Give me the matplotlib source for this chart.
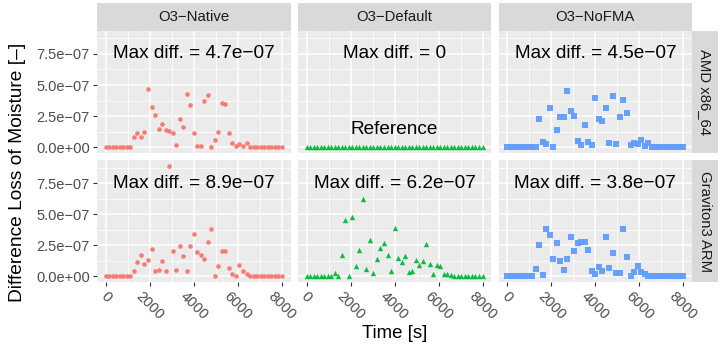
import numpy as np
import matplotlib
matplotlib.use("Agg")
import matplotlib.pyplot as plt
from matplotlib.ticker import FixedLocator

plt.rcParams['font.family'] = ['Liberation Sans', 'DejaVu Sans']

# ---------------- data ----------------
time_s = np.arange(0, 8001, 160)  # 51 output times

cols = ["O3\u2212Native", "O3\u2212Default", "O3\u2212NoFMA"]
rows = ["AMD x86_64", "Graviton3 ARM"]

# values in units of 1e-7
amd_native = [0, 0, 0, 0, 0, 0, 0, 0, 0.81, 1.16, 0.78, 1.24, 4.68, 3.23, 2.61, 1.45, 1.85,
              1.37, 1.29, 1.16, 0.16, 2.26, 1.61, 4.30, 3.39, 1.13, 0.13, 0.08, 3.74, 4.17,
              0.03, 0.54, 1.21, 3.52, 3.44, 1.16, 0.32, 0.08, 0.24, 0.08, 0.30,
              0, 0, 0, 0, 0, 0, 0, 0, 0, 0]
amd_default = [0] * 51
amd_nofma = [0, 0, 0, 0, 0, 0, 0, 0, 0, 2.28, 0.43, 0.27, 3.17, 0.03, 1.40, 2.45, 2.45,
             4.50, 2.93, 2.53, 0.51, 0.19, 1.80, 0.43, 0.19, 3.98, 2.28, 2.12, 3.17, 0.35,
             4.14, 0.27, 2.45, 3.82, 2.77, 0.19, 0.35, 0.27, 0.59, 0.11, 0.35,
             0, 0, 0, 0, 0, 0, 0, 0, 0, 0]
arm_native = [0, 0, 0, 0, 0, 0, 0, 0, 0.43, 1.14, 1.74, 0.98, 1.30, 2.17, 0.43, 0.49, 1.22,
              0.46, 8.90, 2.04, 0.54, 2.47, 1.63, 0.41, 2.47, 3.42, 1.96, 1.71, 1.44, 2.77,
              3.78, 0.03, 0.82, 2.01, 2.01, 0.71, 0.19, 0.05, 0.92, 0.41, 0.16, 0.05,
              0, 0, 0, 0, 0, 0, 0, 0, 0]
arm_default = [0, 0, 0, 0, 0, 0, 0, 0, 0.27, 0.05, 1.71, 4.51, 0.03, 4.81, 0.84, 2.09, 6.20,
               0.63, 2.93, 0.24, 1.44, 2.31, 2.69, 1.71, 0.41, 3.86, 1.47, 1.14, 1.68, 0.33,
               0.43, 1.36, 0.90, 1.22, 2.61, 1.01, 0.22, 0.95, 0.82, 0.16, 0.22, 0.11,
               0, 0, 0, 0, 0, 0, 0, 0, 0]
arm_nofma = [0, 0, 0, 0, 0, 0, 0, 0, 0.60, 2.53, 0.08, 3.83, 3.34, 1.39, 2.69, 1.22, 0.52,
             1.39, 3.18, 2.04, 2.69, 2.77, 2.77, 2.12, 0.41, 0.16, 0.73, 0.41, 3.18, 0.65,
             1.88, 0.24, 0.24, 3.83, 1.55, 0.0, 0.33, 0.82, 0.33, 0.16,
             0, 0, 0, 0, 0, 0, 0, 0, 0, 0, 0]

max_labels = [["Max diff. = 4.7e\u221207", "Max diff. = 0", "Max diff. = 4.5e\u221207"],
              ["Max diff. = 8.9e\u221207", "Max diff. = 6.2e\u221207", "Max diff. = 3.8e\u221207"]]
ref_label = "Reference"

xticks = [0, 2000, 4000, 6000, 8000]
xticklabels = ["0", "2000", "4000", "6000", "8000"]
yticks = [0, 2.5e-7, 5.0e-7, 7.5e-7]
yticklabels = ["0.0e+00", "2.5e\u221207", "5.0e\u221207", "7.5e\u221207"]

series = [[amd_native, amd_default, amd_nofma], [arm_native, arm_default, arm_nofma]]
colors = ["#F8766D", "#00BA38", "#619CFF"]
markers = ["o", "^", "s"]
msizes = [11, 15, 16]

# ---------------- layout ----------------
W, H = 720, 351
fig = plt.figure(figsize=(W / 100, H / 100), dpi=100)

def fa(x0, ytop, w, h):
    return [x0 / W, (H - ytop - h) / H, w / W, h / H]

pw, gap = 193.5, 7.3
lefts = [97, 97 + pw + gap, 97 + 2 * (pw + gap)]
ph = 121.7
tops = [31, 160.3]
strip_top, strip_h = 3, 28
right_edge = lefts[2] + pw
strip_w = 26

panel_bg = "#EBEBEB"
strip_bg = "#D9D9D9"

for r in range(2):
    for c in range(3):
        ax = fig.add_axes(fa(lefts[c], tops[r], pw, ph))
        ax.set_facecolor(panel_bg)
        for s in ax.spines.values():
            s.set_visible(False)
        ax.set_xlim(-400, 8400)
        ax.set_ylim(-0.445e-7, 9.345e-7)
        ax.xaxis.set_major_locator(FixedLocator(xticks))
        ax.xaxis.set_minor_locator(FixedLocator([1000, 3000, 5000, 7000]))
        ax.yaxis.set_major_locator(FixedLocator(yticks))
        ax.yaxis.set_minor_locator(FixedLocator([1.25e-7, 3.75e-7, 6.25e-7, 8.75e-7]))
        ax.grid(which="major", color="white", linewidth=1.1)
        ax.grid(which="minor", color="white", linewidth=0.55)
        ax.set_axisbelow(True)
        ax.tick_params(which="minor", length=0)
        ax.tick_params(which="major", length=3.2, width=0.8, color="#333333",
                       labelcolor="#4D4D4D", labelsize=10.5, pad=2)
        if c == 0:
            ax.set_yticklabels(yticklabels)
        else:
            ax.tick_params(axis="y", which="major", length=0, labelleft=False)
        if r == 1:
            ax.set_xticklabels(xticklabels, rotation=-45, ha="center", va="top",
                               fontsize=10.5)
        else:
            ax.tick_params(axis="x", which="major", length=0, labelbottom=False)

        vals = np.array(series[r][c]) * 1e-7
        ax.scatter(time_s, vals, s=msizes[c], marker=markers[c], color=colors[c],
                   linewidths=0, alpha=0.95, zorder=3, clip_on=False)
        ax.text(4000, 7.5e-7, max_labels[r][c], ha="center", va="center",
                fontsize=13.7, color="black", zorder=4)
        if r == 0 and c == 1:
            ax.text(4000, 1.45e-7, ref_label, ha="center", va="center",
                    fontsize=13.7, color="black", zorder=4)

        # top strips
        if r == 0:
            sax = fig.add_axes(fa(lefts[c], strip_top, pw, strip_h))
            sax.set_facecolor(strip_bg)
            sax.set_xticks([]); sax.set_yticks([])
            for s in sax.spines.values():
                s.set_visible(False)
            sax.text(0.5, 0.5, cols[c], ha="center", va="center", fontsize=10.7,
                     color="#1A1A1A", transform=sax.transAxes)
    # right strips
    rax = fig.add_axes(fa(right_edge, tops[r], strip_w, ph))
    rax.set_facecolor(strip_bg)
    rax.set_xticks([]); rax.set_yticks([])
    for s in rax.spines.values():
        s.set_visible(False)
    rax.text(0.5, 0.5, rows[r], ha="center", va="center", rotation=-90,
             fontsize=10.7, color="#1A1A1A", transform=rax.transAxes)

fig.text((lefts[0] + right_edge) / 2 / W, 1 - 333 / H, "Time [s]", ha="center",
         va="center", fontsize=13.4, color="black")
fig.text(18 / W, 1 - 172 / H,
         "Difference Loss of Moisture [\u2013]", ha="center", va="center",
         rotation=90, fontsize=13.8, color="black")

fig.savefig("out.png", dpi=100)
